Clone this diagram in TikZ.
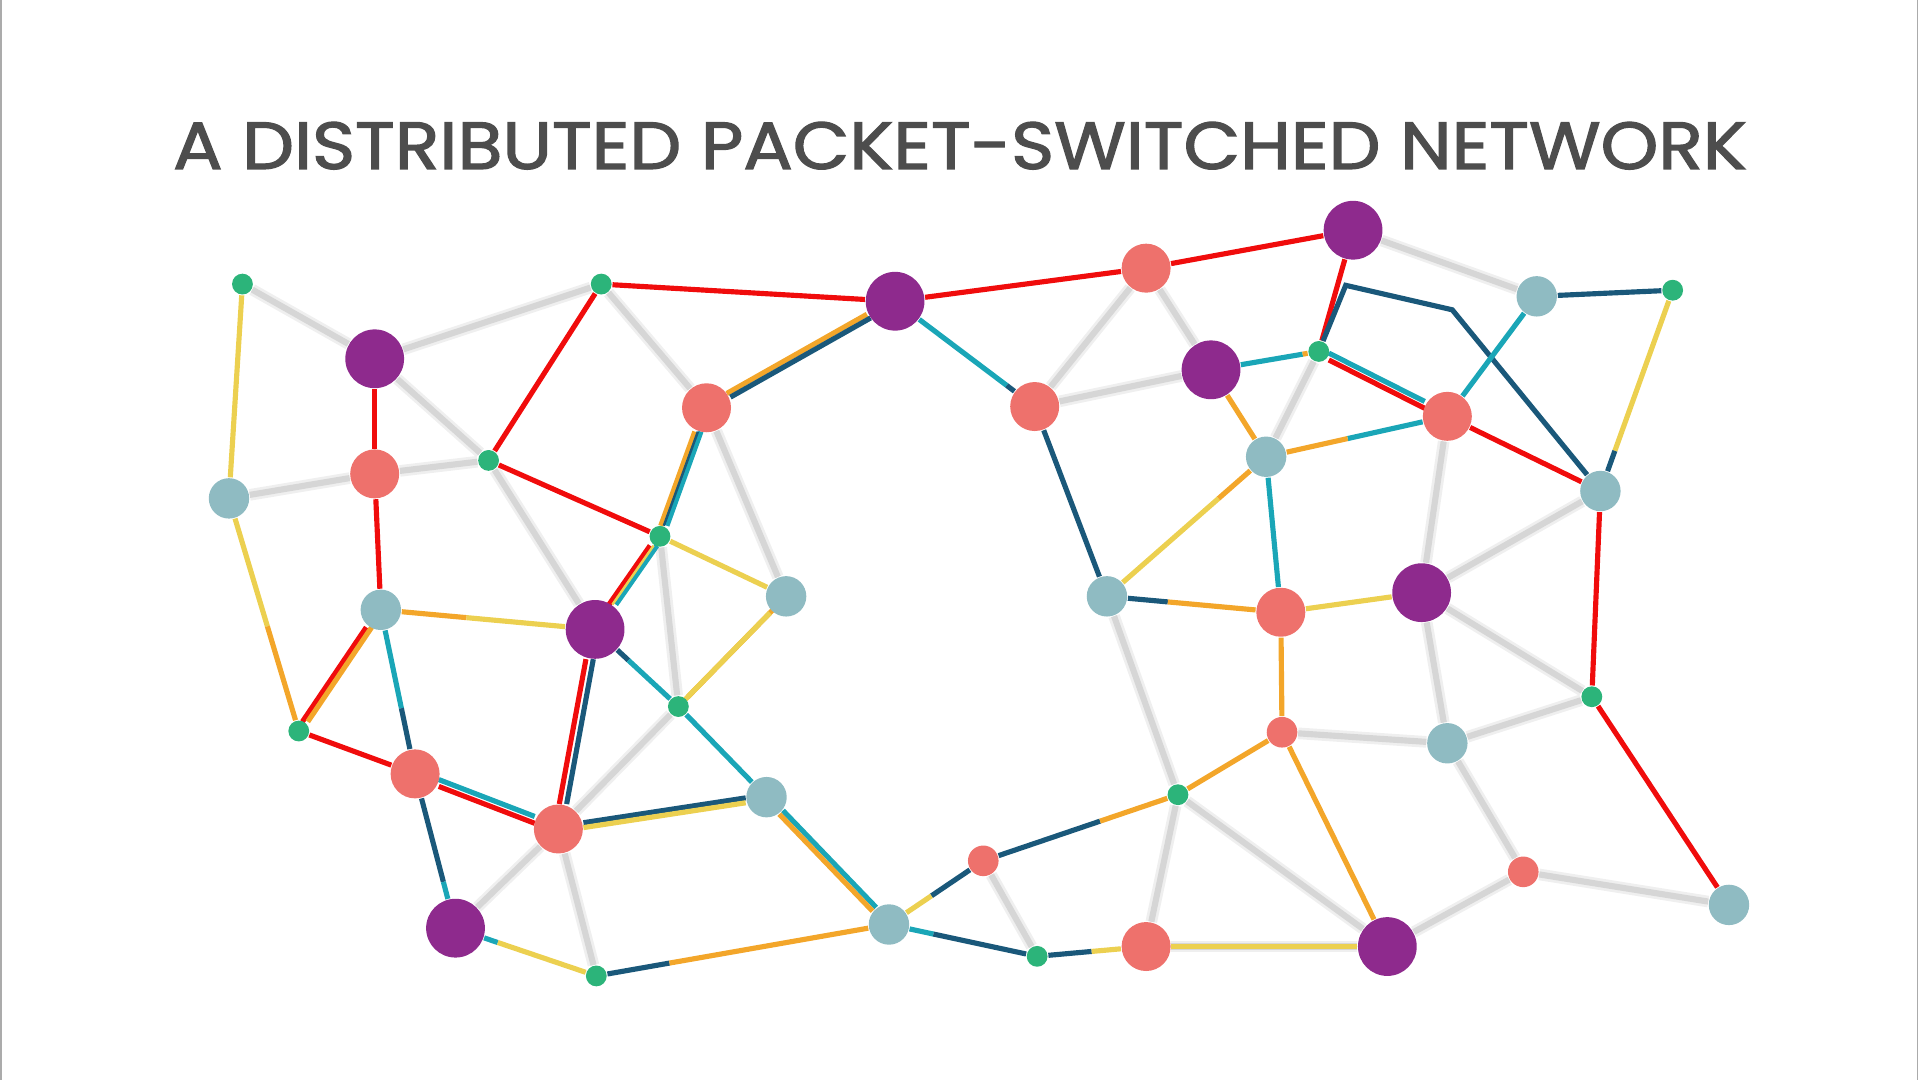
\documentclass[tikz,border=0pt]{standalone}
\usepackage{fontspec}
\newfontfamily\titlefont{Poppins}[FakeBold=1.8]
\usetikzlibrary{calc,backgrounds}

\definecolor{netpurple}{RGB}{142,42,141}
\definecolor{netsalmon}{RGB}{238,113,108}
\definecolor{netblue}{RGB}{143,187,194}
\definecolor{netgreen}{RGB}{44,180,122}
\definecolor{netred}{RGB}{240,12,12}
\definecolor{netyellow}{RGB}{236,208,80}
\definecolor{netorange}{RGB}{243,166,42}
\definecolor{netteal}{RGB}{26,166,183}
\definecolor{netdark}{RGB}{26,88,122}
\definecolor{netgray}{RGB}{214,214,214}
\definecolor{nettitle}{RGB}{77,77,77}

\tikzset{
  hub/.style={circle, fill=netpurple, inner sep=0pt, minimum size=4.8mm},
  relay/.style={circle, fill=netsalmon, inner sep=0pt, minimum size=4.0mm},
  minirelay/.style={circle, fill=netsalmon, inner sep=0pt, minimum size=2.5mm},
  host/.style={circle, fill=netblue, inner sep=0pt, minimum size=3.3mm},
  leaf/.style={circle, fill=netgreen, inner sep=0pt, minimum size=1.7mm},
  link/.style={line width=0.42mm},
  ghalo/.style={line width=0.95mm, draw=netgray!40},
  gline/.style={line width=0.5mm, draw=netgray},
}

% grey idle line, plain line, line that changes colour, two lines side by side
\newcommand{\gwire}[2]{\draw[ghalo] (#1) -- (#2); \draw[gline] (#1) -- (#2);}
\newcommand{\wire}[3]{\draw[link,#3] (#1) -- (#2);}
\newcommand{\duo}[5]{\draw[link,#3] (#1) -- ($(#1)!#5!(#2)$); \draw[link,#4] ($(#1)!#5!(#2)$) -- (#2);}
\newcommand{\twin}[6]{\draw[link,#3,transform canvas={shift={(#5,#6)}}] (#1) -- (#2);
  \draw[link,#4,transform canvas={shift={(-#5,-#6)}}] (#1) -- (#2);}

\begin{document}
\begin{tikzpicture}[x=0.1mm,y=-0.1mm]
    \useasboundingbox (0,0) rectangle (1568,882);
    \draw[netgray!80!black, line width=0.15mm] (1,0) -- (1,882);
    \draw[netgray!80!black, line width=0.15mm] (1566,0) -- (1566,882);

    \node[font=\titlefont\fontsize{15.5}{18}\selectfont, text=nettitle, anchor=base] (title) at (784,138) {\scalebox{1.1}[1]{A DISTRIBUTED PACKET-SWITCHED NETWORK}};

    \node[leaf] (g1) at (198,232) {};
    \node[hub] (p1) at (306,293) {};
    \node[relay] (s1) at (306,387) {};
    \node[host] (b1) at (187,407) {};
    \node[leaf] (g2) at (491,232) {};
    \node[leaf] (g3) at (399,376) {};
    \node[leaf] (g4) at (539,438) {};
    \node[relay] (s2) at (577,333) {};
    \node[hub] (p2) at (731,246) {};
    \node[relay] (s3) at (936,219) {};
    \node[hub] (p3) at (1105,188) {};
    \node[host] (b2) at (1255,242) {};
    \node[leaf] (g5) at (1366,237) {};
    \node[hub] (p4) at (989,302) {};
    \node[leaf] (g6) at (1077,287) {};
    \node[relay] (s4) at (1182,340) {};
    \node[host] (b3) at (1034,373) {};
    \node[host] (b4) at (1307,401) {};
    \node[relay] (s5) at (845,332) {};
    \node[host] (b5) at (642,487) {};
    \node[host] (b6) at (311,498) {};
    \node[hub] (p5) at (486,514) {};
    \node[leaf] (g7) at (554,577) {};
    \node[host] (b7) at (904,487) {};
    \node[relay] (s6) at (1046,500) {};
    \node[hub] (p6) at (1161,484) {};
    \node[leaf] (g8) at (244,597) {};
    \node[relay] (s7) at (339,632) {};
    \node[relay] (s8) at (456,677) {};
    \node[host] (b8) at (626,651) {};
    \node[leaf] (g9) at (1300,569) {};
    \node[minirelay] (s9) at (1047,598) {};
    \node[host] (b9) at (1182,607) {};
    \node[leaf] (g10) at (962,649) {};
    \node[minirelay] (s10) at (803,703) {};
    \node[minirelay] (s11) at (1244,712) {};
    \node[host] (b10) at (1412,739) {};
    \node[hub] (p7) at (372,758) {};
    \node[leaf] (g11) at (487,797) {};
    \node[host] (b11) at (726,755) {};
    \node[leaf] (g12) at (847,781) {};
    \node[relay] (s12) at (936,773) {};
    \node[hub] (p8) at (1133,773) {};

    \coordinate (k1) at (1099,233);
    \coordinate (k2) at (1186,253);

    \begin{pgfonlayer}{background}
    % idle links
    \gwire{g1}{p1}
    \gwire{p1}{g2}
    \gwire{p1}{g3}
    \gwire{b1}{s1}
    \gwire{s1}{g3}
    \gwire{g3}{p5}
    \gwire{g2}{s2}
    \gwire{s2}{b5}
    \gwire{g4}{g7}
    \gwire{g7}{s8}
    \gwire{s8}{p7}
    \gwire{s8}{g11}
    \gwire{s3}{s5}
    \gwire{s5}{p4}
    \gwire{s3}{p4}
    \gwire{p3}{b2}
    \gwire{b3}{g6}
    \gwire{s4}{p6}
    \gwire{b4}{p6}
    \gwire{p6}{b9}
    \gwire{p6}{g9}
    \gwire{g9}{b9}
    \gwire{b9}{s9}
    \gwire{b9}{s11}
    \gwire{s11}{p8}
    \gwire{s11}{b10}
    \gwire{b7}{g10}
    \gwire{g10}{p8}
    \gwire{g10}{s12}
    \gwire{s10}{g12}
    \gwire{s12}{p8}

    % red route
    \wire{g2}{p2}{netred}
    \wire{p2}{s3}{netred}
    \wire{s3}{p3}{netred}
    \wire{p3}{g6}{netred}
    \twin{g6}{s4}{netteal}{netred}{0mm}{0.28mm}
    \wire{s4}{b4}{netred}
    \wire{b4}{g9}{netred}
    \wire{g9}{b10}{netred}
    \wire{g2}{g3}{netred}
    \wire{g3}{g4}{netred}
    \wire{p1}{s1}{netred}
    \wire{s1}{b6}{netred}
    \wire{g8}{s7}{netred}
    \twin{s7}{s8}{netteal}{netred}{0mm}{0.28mm}
    \twin{p5}{s8}{netred}{netdark}{-0.3mm}{0mm}
    \twin{b6}{g8}{netred}{netorange}{-0.22mm}{0mm}
    \twin{g4}{p5}{netred}{netteal}{-0.28mm}{0mm}
    \draw[link,netyellow,line width=0.2mm] (g4) -- (p5);

    % other routes
    \draw[link,netdark] (g6) -- (k1) -- (k2) -- (b4);
    \wire{b2}{g5}{netdark}
    \duo{g5}{b4}{netyellow}{netdark}{0.8}
    \wire{s4}{b2}{netteal}
    \duo{s4}{b3}{netteal}{netorange}{0.55}
    \duo{p4}{g6}{netteal}{netorange}{0.85}
    \wire{p4}{b3}{netorange}
    \duo{b3}{b7}{netorange}{netyellow}{0.3}
    \wire{b3}{s6}{netteal}
    \duo{b7}{s6}{netdark}{netorange}{0.35}
    \wire{s6}{p6}{netyellow}
    \wire{s6}{s9}{netorange}
    \wire{s9}{g10}{netorange}
    \wire{s9}{p8}{netorange}
    \duo{s10}{g10}{netdark}{netorange}{0.6}
    \duo{s10}{b11}{netdark}{netyellow}{0.55}
    \duo{b11}{g12}{netteal}{netdark}{0.3}
    \duo{g12}{s12}{netdark}{netyellow}{0.5}
    \wire{s12}{p8}{netyellow}
    \duo{p2}{s5}{netteal}{netdark}{0.8}
    \wire{s5}{b7}{netdark}
    \duo{g11}{b11}{netdark}{netorange}{0.25}
    \duo{p7}{g11}{netteal}{netyellow}{0.3}
    \duo{s7}{p7}{netdark}{netteal}{0.7}
    \duo{b6}{s7}{netteal}{netdark}{0.6}
    \duo{b1}{g8}{netyellow}{netorange}{0.55}
    \wire{g1}{b1}{netyellow}
    \duo{b6}{p5}{netorange}{netyellow}{0.4}
    \wire{g4}{b5}{netyellow}
    \twin{b5}{g7}{netorange}{netyellow}{0.12mm}{0.12mm}
    \duo{p5}{g7}{netdark}{netteal}{0.4}
    \wire{g7}{b8}{netteal}
    \twin{b8}{b11}{netteal}{netorange}{0.15mm}{0.15mm}
    \twin{s8}{b8}{netdark}{netyellow}{0mm}{0.2mm}
    \twin{s2}{p2}{netorange}{netdark}{-0.15mm}{0.15mm}
    \twin{s2}{g4}{netorange}{netteal}{-0.25mm}{0mm}
    \draw[link,netdark,line width=0.2mm] (s2) -- (g4);
    \end{pgfonlayer}
\end{tikzpicture}
\end{document}
